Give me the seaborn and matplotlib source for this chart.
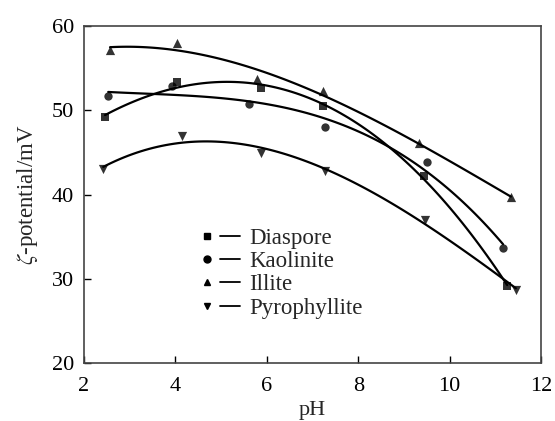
import matplotlib
matplotlib.use("Agg")
import matplotlib.pyplot as plt
import seaborn as sns
import numpy as np
import pandas as pd
from matplotlib.lines import Line2D
from matplotlib.legend_handler import HandlerTuple

# ---- data ----
ph_diaspore = [2.46, 4.03, 5.87, 7.24, 9.44, 11.26]
zeta_diaspore = [49.2, 53.3, 52.6, 50.5, 42.2, 29.1]

ph_kaolinite = [2.53, 3.92, 5.60, 7.27, 9.50, 11.17]
zeta_kaolinite = [51.7, 52.9, 50.8, 48.0, 43.8, 33.7]

ph_illite = [2.57, 4.03, 5.79, 7.22, 9.32, 11.34]
zeta_illite = [57.2, 58.0, 53.7, 52.3, 46.1, 39.7]

ph_pyro = [2.42, 4.15, 5.87, 7.27, 9.46, 11.45]
zeta_pyro = [43.0, 47.0, 44.9, 42.8, 37.0, 28.7]

names = ["Diaspore", "Kaolinite", "Illite", "Pyrophyllite"]
markers = ["s", "o", "^", "v"]
xticks = [2, 4, 6, 8, 10, 12]
yticks = [20, 30, 40, 50, 60]

sns.set_style("ticks")
plt.rcParams["font.family"] = ["Liberation Serif", "DejaVu Serif"]
plt.rcParams["mathtext.fontset"] = "stix"

fig = plt.figure(figsize=(5.55, 4.21), dpi=100)
ax = fig.add_axes([84/555, 1-363/421, (541-84)/555, (363-26)/421])

series = [(ph_diaspore, zeta_diaspore), (ph_kaolinite, zeta_kaolinite),
          (ph_illite, zeta_illite), (ph_pyro, zeta_pyro)]
msize = {"s": 32, "o": 36, "^": 44, "v": 44}
for (x, y), name, m in zip(series, names, markers):
    df = pd.DataFrame({"pH": x, "zeta": y})
    sns.regplot(data=df, x="pH", y="zeta", order=3, ci=None, truncate=True,
                marker=m, ax=ax,
                scatter_kws={"color": "k", "s": msize[m], "linewidths": 0, "zorder": 3},
                line_kws={"color": "k", "lw": 1.6})

ax.set_xlim(2, 12)
ax.set_ylim(20, 60)
ax.set_xticks(xticks)
ax.set_yticks(yticks)
ax.tick_params(direction="in", length=5, width=1, labelsize=16, colors="k",
               top=False, right=False)
ax.tick_params(axis="x", pad=10)
ax.tick_params(axis="y", pad=7)
for s in ax.spines.values():
    s.set_visible(True)
    s.set_linewidth(1.2)
    s.set_color("#444444")
ax.set_xlabel("pH", fontsize=16, labelpad=4)
ax.set_ylabel(r"$\zeta$-potential/mV", fontsize=16.5, labelpad=9)

handles = []
for m in markers:
    h1 = Line2D([], [], marker=m, color="k", linestyle="none", markersize=5)
    h2 = Line2D([], [], color="k", lw=1.3)
    handles.append((h1, h2))
ax.legend(handles, names, handler_map={tuple: HandlerTuple(ndivide=2, pad=0.15)},
          frameon=False, fontsize=16.5, handlelength=1.9, handletextpad=0.4,
          labelspacing=0.1, loc="upper left",
          bbox_to_anchor=((176-84)/457, (363-207)/337))

fig.savefig("out.png", dpi=100)
